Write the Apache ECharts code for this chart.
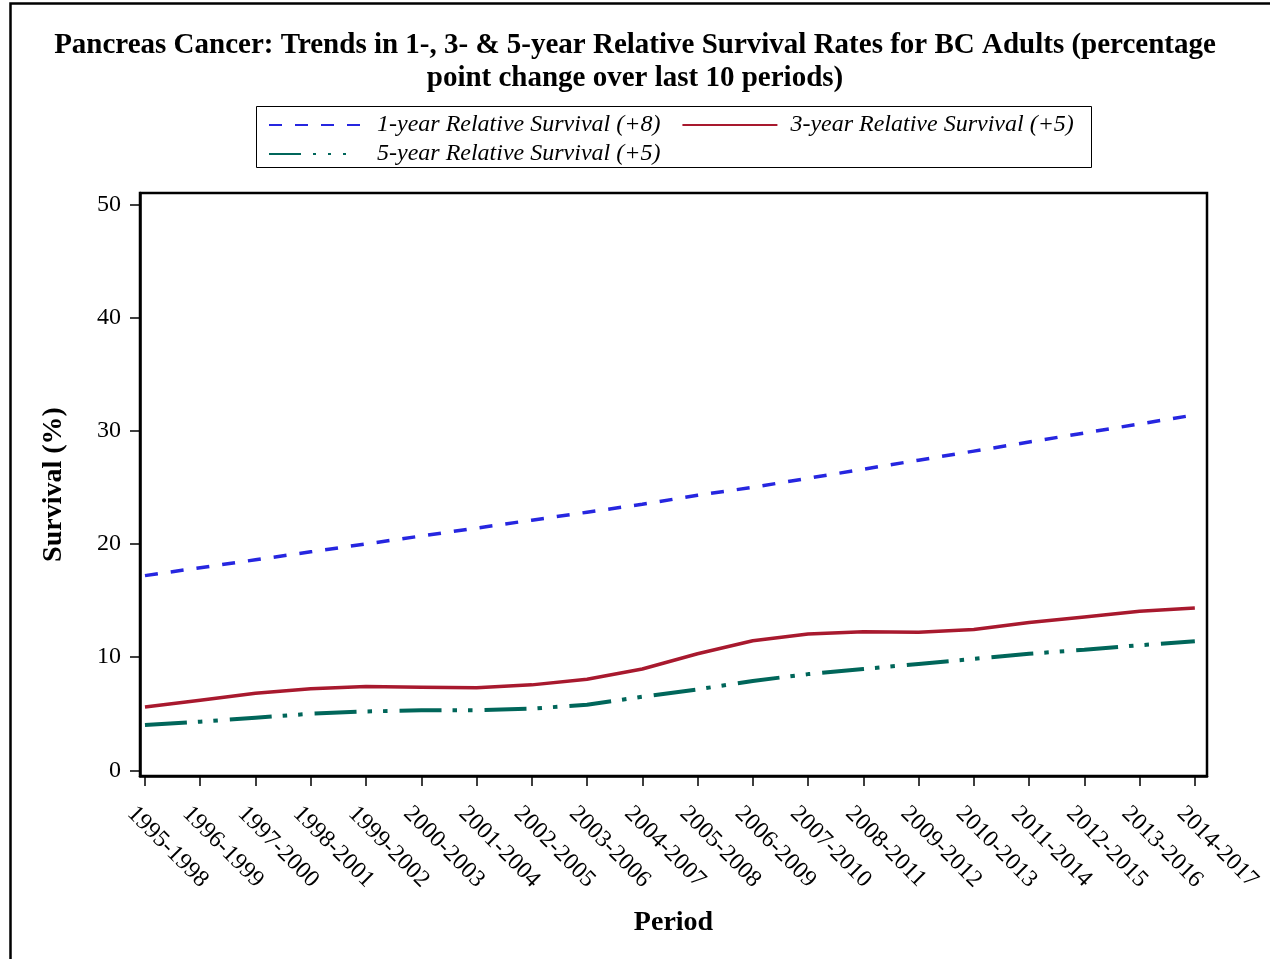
<!DOCTYPE html>
<html>
<head>
<meta charset="utf-8">
<script src="https://cdn.jsdelivr.net/npm/echarts@6/dist/echarts.min.js"></script>
<style>
html,body{margin:0;padding:0;background:#fff;}
#chart{width:1270px;height:959px;}
</style>
</head>
<body>
<div id="chart"></div>
<script>
const periods = ['1995-1998','1996-1999','1997-2000','1998-2001','1999-2002','2000-2003','2001-2004','2002-2005','2003-2006','2004-2007','2005-2008','2006-2009','2007-2010','2008-2011','2009-2012','2010-2013','2011-2014','2012-2015','2013-2016','2014-2017'];
const oneYear   = [17.2,17.9,18.6,19.3,20.0,20.7,21.4,22.1,22.8,23.5,24.3,25.0,25.8,26.6,27.4,28.2,29.0,29.8,30.6,31.4];
const threeYear = [5.6,6.2,6.8,7.2,7.4,7.35,7.3,7.55,8.05,8.95,10.3,11.45,12.05,12.25,12.2,12.45,13.05,13.55,14.05,14.35];
const fiveYear  = [4.0,4.3,4.65,5.0,5.2,5.3,5.3,5.45,5.8,6.5,7.15,7.9,8.5,8.95,9.4,9.85,10.3,10.65,11.05,11.4];
const yTicks = [0,10,20,30,40,50];
const seriesNames = ['1-year Relative Survival (+8)','3-year Relative Survival (+5)','5-year Relative Survival (+5)'];
const titleText = 'Pancreas Cancer: Trends in 1-, 3- & 5-year Relative Survival Rates for BC Adults (percentage\npoint change over last 10 periods)';

const FONT = '"Liberation Serif","Times New Roman",serif';
const xIdx = periods.map((p,i)=>i);
const toPts = arr => arr.map((v,i)=>[i,v]);

const legendText = {fontFamily:FONT, fontStyle:'italic', fontSize:24, color:'#000', padding:[0,0,0,8]};

const chart = echarts.init(document.getElementById('chart'), null, {renderer:'canvas'});
chart.setOption({
  backgroundColor:'#fff',
  animation:false,
  title:{
    text:titleText, left:'center', top:24,
    textStyle:{fontFamily:FONT, fontWeight:'bold', fontSize:29, lineHeight:33, color:'#000'}
  },
  legend:[
    {
      left:268, top:113, padding:0,
      itemWidth:95, itemHeight:20, itemGap:21,
      textStyle:legendText,
      itemStyle:{opacity:0},
      lineStyle:{width:2},
      data:[{name:seriesNames[0]},{name:seriesNames[1]}]
    },
    {
      left:268, top:142, padding:0,
      itemWidth:95, itemHeight:20, itemGap:21,
      textStyle:legendText,
      itemStyle:{opacity:0},
      lineStyle:{width:2},
      data:[{name:seriesNames[2], lineStyle:{width:2, type:[32,12,3,12,3,12,3,20]}}]
    }
  ],
  grid:{left:140, top:193, width:1067, height:583, show:true, borderColor:'#000', borderWidth:2.5, backgroundColor:'#fff'},
  xAxis:{
    type:'value', min:-0.09, max:19.22,
    name:'Period', nameLocation:'middle', nameGap:133,
    nameTextStyle:{fontFamily:FONT, fontWeight:'bold', fontSize:28, color:'#000'},
    axisLine:{show:true, onZero:false, lineStyle:{color:'#000', width:2.5}},
    axisTick:{show:true, length:10, customValues:xIdx, lineStyle:{color:'#000', width:1.5}},
    axisLabel:{
      customValues:xIdx, rotate:-45, margin:20, verticalAlign:'top', padding:[8,0,0,0],
      fontFamily:FONT, fontSize:24, color:'#000',
      formatter:v=>periods[Math.round(v)]
    },
    splitLine:{show:false}
  },
  yAxis:{
    type:'value', min:-0.5, max:51,
    name:'Survival (%)', nameLocation:'middle', nameGap:72,
    nameTextStyle:{fontFamily:FONT, fontWeight:'bold', fontSize:28, color:'#000'},
    axisLine:{show:true, onZero:false, lineStyle:{color:'#000', width:2.5}},
    axisTick:{show:true, length:10, customValues:yTicks, lineStyle:{color:'#000', width:1.5}},
    axisLabel:{customValues:yTicks, margin:19, fontFamily:FONT, fontSize:24, color:'#000'},
    splitLine:{show:false}
  },
  series:[
    {name:seriesNames[0], type:'line', data:toPts(oneYear), showSymbol:false, color:'#2626E0',
     lineStyle:{color:'#2626E0', width:3.5, type:[13,13]}},
    {name:seriesNames[1], type:'line', data:toPts(threeYear), showSymbol:false, color:'#A8192E',
     lineStyle:{color:'#A8192E', width:3.5, type:'solid'}},
    {name:seriesNames[2], type:'line', data:toPts(fiveYear), showSymbol:false, color:'#00665A',
     lineStyle:{color:'#00665A', width:4, type:[42,11,4.5,11,4.5,12]}}
  ],
  graphic:[
    {type:'polyline', silent:true, shape:{points:[[10.5,959],[10.5,3.5],[1270,3.5]]},
     style:{stroke:'#000', lineWidth:2.5, fill:null}},
    {type:'rect', silent:true, shape:{x:256.5, y:106.5, width:835, height:61},
     style:{stroke:'#000', lineWidth:1, fill:null}}
  ]
});
</script>
</body>
</html>
